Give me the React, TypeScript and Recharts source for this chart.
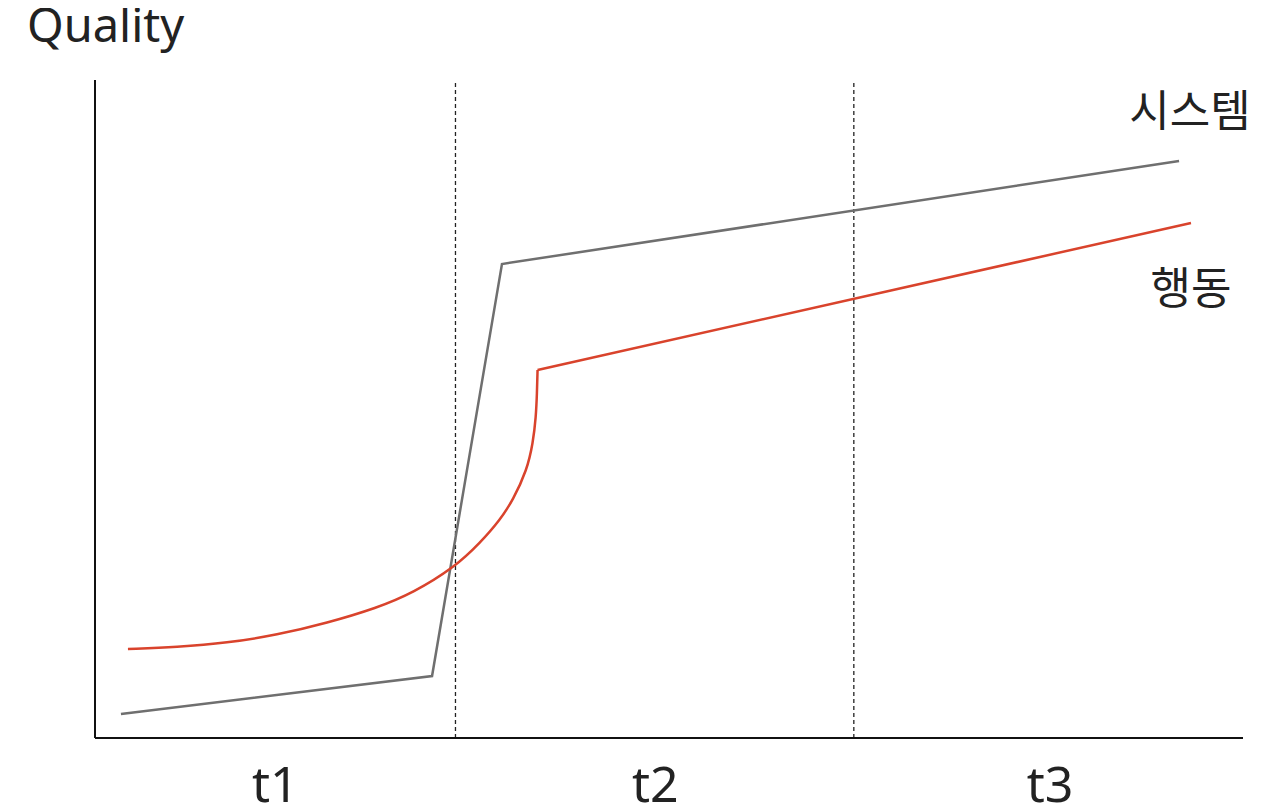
import React from 'react';
import { LineChart, Line, XAxis, YAxis, ReferenceLine } from 'recharts';

// time axis runs 0..100, quality axis runs 0..100
const periodLabels = ['t1', 't2', 't3'];
const periodCenters = [15.7, 48.8, 83.2];
const periodBounds = [31.4, 66.1];

const systemX = [2.26, 29.36, 35.45, 94.43];
const systemY = [3.65, 9.42, 72.04, 87.69];

// smooth rise of behaviour until the jump
const behaviorCurveX = [2.87, 7.14, 11.5, 15.85, 20.21, 24.56, 27.7, 31.36, 33.54, 35.28, 36.41, 37.63, 38.15, 38.41, 38.5, 38.55];
const behaviorCurveY = [13.53, 13.83, 14.44, 15.65, 17.48, 19.76, 22.04, 25.99, 29.64, 33.13, 36.17, 40.73, 44.83, 48.78, 52.43, 55.93];
// after the jump
const behaviorLineX = [38.55, 95.47];
const behaviorLineY = [55.93, 78.27];

const systemData = systemX.map((x, i) => ({ x, y: systemY[i] }));
const behaviorCurve = behaviorCurveX.map((x, i) => ({ x, y: behaviorCurveY[i] }));
const behaviorLine = behaviorLineX.map((x, i) => ({ x, y: behaviorLineY[i] }));

const labelLookup: { [key: number]: string } = {};
periodCenters.forEach((c, i) => { labelLookup[c] = periodLabels[i]; });

const RED = '#d9432c';

const App: React.FC = () => {
  return (
    <div style={{ position: 'relative', width: 1264, height: 800, fontFamily: '"Noto Sans", sans-serif' }}>
      <div style={{ position: 'absolute', left: 19, top: -7, fontSize: 47, lineHeight: '47px', color: '#222' }}>
        Quality
      </div>
      <div style={{ position: 'absolute', left: 1082, top: 78, width: 200, textAlign: 'center', fontSize: 44, lineHeight: '44px', color: '#222', fontFamily: '"Noto Sans CJK KR", sans-serif' }}>
        시스템
      </div>
      <div style={{ position: 'absolute', left: 1083, top: 255, width: 200, textAlign: 'center', fontSize: 44, lineHeight: '44px', color: '#222', fontFamily: '"Noto Sans CJK KR", sans-serif' }}>
        행동
      </div>
      <LineChart width={1264} height={800} margin={{ top: 72, right: 29, left: 0, bottom: 0 }}>
        <XAxis
          type="number"
          dataKey="x"
          domain={[0, 100]}
          ticks={periodCenters}
          tickFormatter={(v) => labelLookup[v] ?? ''}
          tickLine={false}
          tickSize={0}
          tickMargin={28}
          height={70}
          axisLine={{ stroke: '#111', strokeWidth: 2 }}
          tick={{ fill: '#222', fontSize: 50, fontFamily: '"Noto Sans", sans-serif' }}
          allowDataOverflow
        />
        <YAxis
          type="number"
          dataKey="y"
          domain={[0, 100]}
          width={87}
          tick={false}
          tickLine={false}
          axisLine={{ stroke: '#111', strokeWidth: 2 }}
          allowDataOverflow
        />
        {periodBounds.map((b) => (
          <ReferenceLine key={b} x={b} stroke="#222" strokeWidth={1.3} strokeDasharray="4 3" />
        ))}
        <Line data={systemData} dataKey="y" type="linear" stroke="#6f6f6f" strokeWidth={2.5} dot={false} isAnimationActive={false} />
        <Line data={behaviorCurve} dataKey="y" type="basis" stroke={RED} strokeWidth={2.5} dot={false} isAnimationActive={false} />
        <Line data={behaviorLine} dataKey="y" type="linear" stroke={RED} strokeWidth={2.5} dot={false} isAnimationActive={false} />
      </LineChart>
    </div>
  );
};

export default App;
